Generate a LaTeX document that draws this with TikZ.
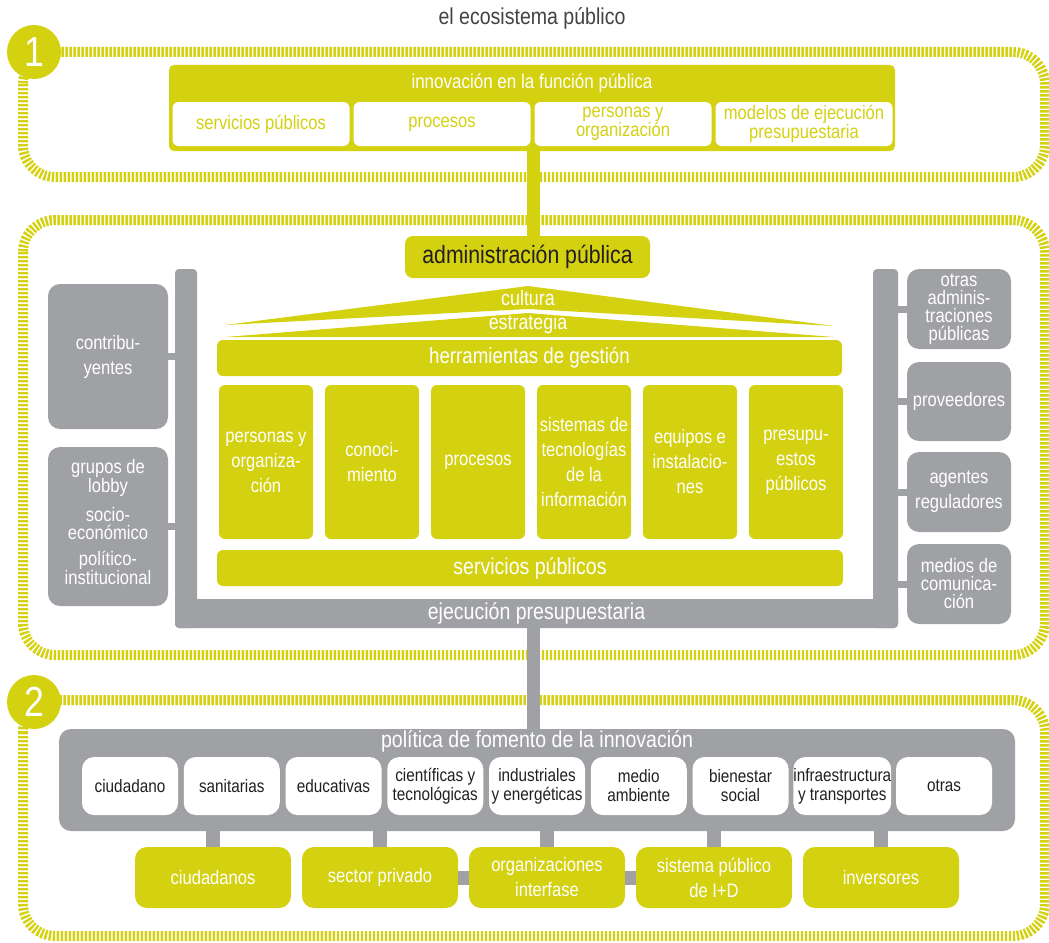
\documentclass[tikz,border=0pt]{standalone}
\usepackage{fontspec}
\setmainfont{Liberation Sans}[FakeStretch=0.85]
\usepackage{xcolor}
\usepackage{tikz}
\usetikzlibrary{positioning}
\definecolor{lemon}{RGB}{212,209,17}
\definecolor{ashgray}{RGB}{160,161,165}
\definecolor{ink}{RGB}{35,31,32}
\newcommand{\fsz}[2]{\fontsize{#1}{#2}\selectfont}

\begin{document}
\begin{tikzpicture}[x=1pt, y=-1pt, font=\fsz{19.5}{25},
    every node/.style={align=center, inner sep=0pt},
    hatch/.style={lemon, line width=10pt, dash pattern=on 2.4pt off 1.6pt, rounded corners=32pt},
    badge/.style={circle, fill=lemon, minimum size=54pt, text=white, font=\fsz{42}{42}},
    limebox/.style={fill=lemon, text=white, rounded corners=6pt},
    topcell/.style={fill=white, text=lemon, rounded corners=6pt, minimum width=177pt, minimum height=44pt, font=\fsz{19.5}{17}},
    pillar/.style={limebox, minimum width=94pt, minimum height=154pt},
    sidebox/.style={fill=ashgray, text=white, rounded corners=12pt},
    policell/.style={fill=white, text=ink, rounded corners=12pt, minimum width=96pt, minimum height=58pt, font=\fsz{18}{19}},
    actor/.style={limebox, rounded corners=12pt, minimum width=156pt, minimum height=61pt},
    greylink/.style={ashgray, line width=#1},
    limelink/.style={lemon, line width=#1}]
    \useasboundingbox (0,0) rectangle (1049,942);

    % Hatched frames
    \draw[hatch] (23,52) rectangle (1045,177);
    \draw[hatch] (23,220) rectangle (1045,655);
    \draw[hatch] (23,700) rectangle (1045,936);

    \node[text=ink!85, font=\fsz{23}{23}] (title) at (532,18) {el ecosistema público};

    % Innovation in the public function
    \node[limebox, rounded corners=5pt, minimum width=726pt, minimum height=86pt] (innov) at (532,108) {};
    \node[text=white, font=\fsz{20}{20}] (innovtit) at (532,83) {innovación en la función pública};
    \foreach \txt [count=\i] in {{servicios públicos}, {procesos}, {personas y\\organización}, {modelos de ejecución\\presupuestaria}} {
        \node[topcell] (cell\i) at (80+181*\i,124) {\txt};
    }

    % Public administration and its roof
    \node[limebox, text=ink, rounded corners=8pt, minimum width=245pt, minimum height=42pt, font=\fsz{25}{25}] (admin) at (527.5,257) {administración pública};
    \fill[lemon] (225,325) -- (528,286) -- (834,326) -- (528,309) -- cycle;
    \fill[lemon] (225,337) -- (528,313) -- (834,337) -- cycle;
    \node[text=white, font=\fsz{21}{21}] (cult) at (528,298) {cultura};
    \node[text=white, font=\fsz{21}{21}] (strat) at (528,324) {estrategia};
    \node[limebox, minimum width=625pt, minimum height=36pt, font=\fsz{22}{22}] (tools) at (529.5,358) {herramientas de gestión};

    % Pillars
    \foreach \txt [count=\i] in {{personas y\\organiza-\\ción}, {conoci-\\miento}, {procesos}, {sistemas de\\tecnologías\\de la\\información}, {equipos e\\instalacio-\\nes}, {presupu-\\estos\\públicos}} {
        \node[pillar] (pil\i) at (160+106*\i,462) {\txt};
    }
    \node[limebox, minimum width=626pt, minimum height=36pt, font=\fsz{23}{23}] (serv) at (530,568) {servicios públicos};

    % Grey frame: budget execution
    \node[fill=ashgray, rounded corners=4pt, minimum width=22pt, minimum height=359pt] (colL) at (186,448.5) {};
    \node[fill=ashgray, rounded corners=4pt, minimum width=25pt, minimum height=359pt] (colR) at (885.5,448.5) {};
    \node[fill=ashgray, rounded corners=4pt, minimum width=723pt, minimum height=29pt, text=white, font=\fsz{23}{23}] (ejec) at (536.5,613.5) {ejecución presupuestaria};

    % Stakeholders left and right
    \node[sidebox, minimum width=120pt, minimum height=145pt] (contrib) at (108,356.5) {contribu-\\yentes};
    \node[sidebox, minimum width=120pt, minimum height=159pt] (lobby) at (108,526.5) {};
    \node[text=white, font=\fsz{19.5}{18}] (lobbytxt) at (108,522) {grupos de\\lobby\\[9pt]socio-\\económico\\[8pt]político-\\institucional};
    \node[sidebox, minimum width=104pt, minimum height=80pt, font=\fsz{19.5}{18}] (otras) at (959,309) {otras\\adminis-\\traciones\\públicas};
    \node[sidebox, minimum width=104pt, minimum height=79pt] (prov) at (959,401.5) {proveedores};
    \node[sidebox, minimum width=104pt, minimum height=80pt] (agent) at (959,492) {agentes\\reguladores};
    \node[sidebox, minimum width=104pt, minimum height=80pt, font=\fsz{19.5}{18}] (medios) at (959,584) {medios de\\comunica-\\ción};
    \foreach \n in {contrib, lobby} {
        \draw[greylink=7pt] (\n.east) -- (\n.east -| colL.west);
    }
    \foreach \n in {otras, prov, agent, medios} {
        \draw[greylink=7pt] (\n.west) -- (\n.west -| colR.east);
    }

    % Innovation policy
    \node[fill=ashgray, rounded corners=12pt, minimum width=956pt, minimum height=102pt] (policy) at (537,780) {};
    \node[text=white, font=\fsz{23}{23}] (policytit) at (537,741) {política de fomento de la innovación};
    \foreach \txt [count=\i] in {{ciudadano}, {sanitarias}, {educativas}, {científicas y\\tecnológicas}, {industriales\\y energéticas}, {medio\\ambiente}, {bienestar\\social}, {infraestructura\\y transportes}, {otras}} {
        \node[policell] (pc\i) at (28.25+101.75*\i,786) {\txt};
    }
    \foreach \txt [count=\i] in {{ciudadanos}, {sector privado}, {organizaciones\\interfase}, {sistema público\\de I+D}, {inversores}} {
        \node[actor] (act\i) at (46+167*\i,877.5) {\txt};
    }
    \foreach \i in {1,...,5} {
        \draw[greylink=14pt] (act\i.north) -- (act\i.north |- policy.south);
    }
    \draw[greylink=14pt] (act2.east) -- (act3.west);
    \draw[greylink=14pt] (act3.east) -- (act4.west);

    % Links between the levels
    \draw[limelink=13pt] ([xshift=1pt]innov.south) -- ([xshift=1pt]innov.south |- admin.north);
    \draw[greylink=13pt] ([xshift=-3.5pt]ejec.south) -- ([xshift=-3.5pt]ejec.south |- policy.north);

    \node[badge] (one) at (34,52) {1};
    \node[badge] (two) at (34,702) {2};
\end{tikzpicture}
\end{document}
